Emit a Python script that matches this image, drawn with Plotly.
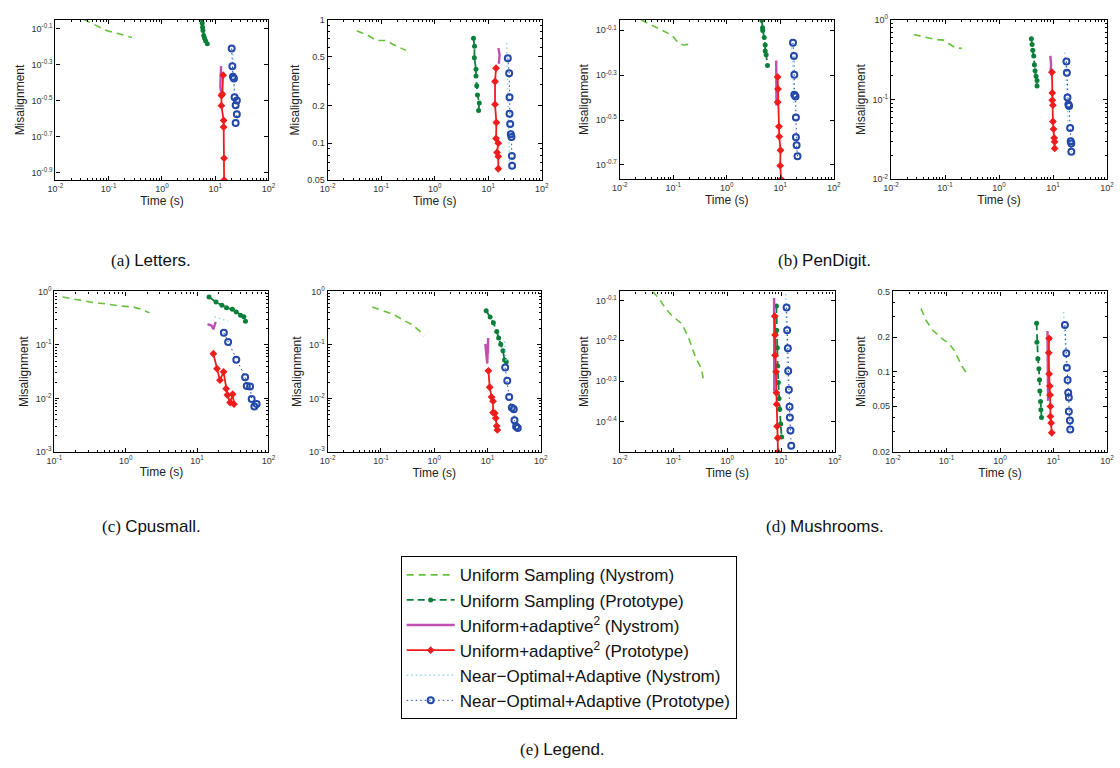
import plotly.graph_objects as go

# ---------------- data (time in s, misalignment) ----------------
# Panel a1: Letters, Nystrom
A1_UNS_T = [0.034, 0.09, 0.16, 0.274]
A1_UNS_E = [0.897, 0.778, 0.743, 0.711]
A1_UPR_T = [5.6, 5.7, 5.8, 5.9, 6.1, 6.3, 6.6, 7.1]
A1_UPR_E = [0.898, 0.853, 0.811, 0.778, 0.728, 0.706, 0.682, 0.656]
A1_ADN_T = [12.9, 12.6, 12.5, 12.8]
A1_ADN_E = [0.493, 0.43, 0.38, 0.355]
A1_ADP_T = [14.1, 13.6, 13.1, 13.1, 14.4, 14.4, 14.7, 14.7]
A1_ADP_E = [0.438, 0.344, 0.337, 0.296, 0.245, 0.225, 0.151, 0.114]
A1_NON_T = [21.5, 22.0, 22.5]
A1_NON_E = [0.608, 0.45, 0.35]
A1_NOP_T = [20.4, 21.0, 21.5, 22.5, 23.1, 24.2, 25.5, 25.5, 24.2]
A1_NOP_E = [0.617, 0.491, 0.429, 0.42, 0.33, 0.298, 0.316, 0.265, 0.237]

# Panel a2: Letters, Prototype
A2_UNS_T = [0.035, 0.061, 0.081, 0.126, 0.167, 0.222, 0.29]
A2_UNS_E = [0.816, 0.735, 0.679, 0.679, 0.631, 0.593, 0.565]
A2_UPR_T = [5.3, 5.55, 5.5, 5.9, 5.9, 6.1, 6.3, 6.8, 6.6]
A2_UPR_E = [0.708, 0.611, 0.493, 0.397, 0.351, 0.292, 0.246, 0.212, 0.184]
A2_ADN_T = [15.5, 16.3, 15.8]
A2_ADN_E = [0.59, 0.52, 0.44]
A2_ADP_T = [14.0, 13.4, 13.4, 14.2, 14.0, 15.4, 14.6, 15.4, 15.4]
A2_ADP_E = [0.405, 0.316, 0.206, 0.147, 0.109, 0.1, 0.084, 0.078, 0.062]
A2_NON_T = [22.0, 22.5, 23.0, 23.5, 24.0, 25.0]
A2_NON_E = [0.65, 0.45, 0.3, 0.2, 0.12, 0.07]
A2_NOP_T = [23.2, 24.6, 25.0, 25.0, 25.7, 26.4, 27.2, 27.6, 27.9]
A2_NOP_E = [0.487, 0.369, 0.235, 0.173, 0.143, 0.118, 0.112, 0.0788, 0.0655]

# Panel b1: PenDigit, Nystrom
B1_UNS_T = [0.025, 0.054, 0.095, 0.126, 0.155, 0.192, 0.221]
B1_UNS_E = [0.885, 0.807, 0.755, 0.695, 0.683, 0.688, 0.667]
B1_UPR_T = [4.54, 4.67, 4.7, 5.01, 5.23, 5.23, 5.45, 5.77]
B1_UPR_E = [0.879, 0.816, 0.794, 0.738, 0.683, 0.643, 0.618, 0.553]
B1_ADN_T = [8.4, 8.45, 8.5]
B1_ADN_E = [0.583, 0.47, 0.367]
B1_ADP_T = [8.93, 9.06, 8.93, 9.45, 9.58, 10.1, 9.96, 10.4]
B1_ADP_E = [0.492, 0.435, 0.38, 0.296, 0.267, 0.232, 0.198, 0.172]
B1_NON_T = [16.1, 17.0, 17.5, 18.0]
B1_NON_E = [0.731, 0.6, 0.48, 0.37]
B1_NOP_T = [17.3, 18.0, 18.3, 18.3, 19.3, 19.6, 19.6, 20.2, 21.0]
B1_NOP_E = [0.699, 0.611, 0.503, 0.41, 0.403, 0.325, 0.265, 0.244, 0.218]

# Panel b2: PenDigit, Prototype
B2_UNS_T = [0.0264, 0.0432, 0.066, 0.0938, 0.124, 0.154, 0.204]
B2_UNS_E = [0.653, 0.605, 0.567, 0.556, 0.491, 0.447, 0.438]
B2_UPR_T = [3.97, 4.09, 4.21, 4.39, 4.51, 4.64, 4.84, 5.05, 5.05]
B2_UPR_E = [0.577, 0.491, 0.414, 0.352, 0.273, 0.23, 0.196, 0.173, 0.148]
B2_ADN_T = [8.9, 9.2, 9.0, 9.3]
B2_ADN_E = [0.352, 0.27, 0.23, 0.2]
B2_ADP_T = [9.53, 9.67, 9.67, 9.94, 9.94, 10.2, 10.5, 10.7, 10.7]
B2_ADP_E = [0.22, 0.121, 0.098, 0.085, 0.053, 0.0426, 0.033, 0.0295, 0.0244]
B2_NON_T = [16.5, 17.2, 18.0, 19.0]
B2_NON_E = [0.388, 0.2, 0.1, 0.05]
B2_NOP_T = [17.7, 18.0, 18.5, 19.2, 19.8, 20.7, 21.2, 21.8, 21.8]
B2_NOP_E = [0.3, 0.216, 0.106, 0.0867, 0.0827, 0.0438, 0.03, 0.0281, 0.0222]

# Panel c1: Cpusmall, Nystrom
C1_UNS_T = [0.13, 0.189, 0.32, 0.543, 0.83, 1.27, 1.56, 2.15]
C1_UNS_E = [0.786, 0.711, 0.635, 0.583, 0.536, 0.513, 0.478, 0.398]
C1_UPR_T = [14.7, 18.4, 22.3, 25.8, 31.2, 35.4, 40.6, 45.2, 47.6]
C1_UPR_E = [0.786, 0.635, 0.551, 0.499, 0.465, 0.415, 0.36, 0.336, 0.279]
C1_ADN_T = [14.0, 16.0, 16.9, 18.2]
C1_ADN_E = [0.245, 0.229, 0.196, 0.271]
C1_ADP_T = [16.9, 19.0, 20.9, 23.5, 25.5, 26.6, 29.0, 31.5, 32.9]
C1_ADP_E = [0.0685, 0.0361, 0.022, 0.0314, 0.0152, 0.0116, 0.0084, 0.012, 0.0078]
C1_NON_T = [17.5, 21.0, 27.2]
C1_NON_E = [0.336, 0.31, 0.279]
C1_NOP_T = [23.7, 27.2, 35.4, 47.1, 49.7, 55.2, 58.2, 63.4, 68.2]
C1_NOP_E = [0.17, 0.114, 0.053, 0.025, 0.017, 0.0168, 0.0098, 0.0071, 0.0079]

# Panel c2: Cpusmall, Prototype
C2_UNS_T = [0.069, 0.109, 0.167, 0.255, 0.392, 0.52, 0.644]
C2_UNS_E = [0.515, 0.434, 0.377, 0.297, 0.237, 0.186, 0.146]
C2_UPR_T = [9.44, 11.2, 12.9, 14.9, 16.2, 17.7, 19.5, 20.9, 22.5]
C2_UPR_E = [0.435, 0.332, 0.261, 0.179, 0.135, 0.103, 0.0776, 0.0523, 0.0486]
C2_ADN_T = [9.1, 9.3, 9.6, 9.9, 10.3, 10.2]
C2_ADN_E = [0.105, 0.08, 0.055, 0.045, 0.135, 0.07]
C2_ADP_T = [10.4, 11.0, 11.9, 12.7, 12.7, 13.7, 14.3, 14.9, 15.3]
C2_ADP_E = [0.0328, 0.0162, 0.0106, 0.0089, 0.00545, 0.0053, 0.00428, 0.00305, 0.00258]
C2_NON_T = [20.9, 21.5, 22.5]
C2_NON_E = [0.117, 0.08, 0.05]
C2_NOP_T = [21.5, 23.5, 25.5, 28.6, 31.2, 32.1, 34.4, 37.0]
C2_NOP_E = [0.0377, 0.0214, 0.0106, 0.0067, 0.0063, 0.0039, 0.003, 0.0028]

# Panel d1: Mushrooms, Nystrom
D1_UNS_T = [0.0408, 0.054, 0.0716, 0.095, 0.145, 0.192, 0.254, 0.336, 0.361]
D1_UNS_E = [0.838, 0.804, 0.759, 0.728, 0.695, 0.641, 0.577, 0.535, 0.503]
D1_UPR_T = [8.2, 8.32, 8.55, 8.67, 8.93, 9.18, 9.45, 9.85, 10.3]
D1_UPR_E = [0.771, 0.671, 0.607, 0.547, 0.497, 0.454, 0.427, 0.392, 0.364]
D1_ADN_T = [7.43, 7.45, 7.5]
D1_ADN_E = [0.807, 0.6, 0.473]
D1_ADP_T = [7.64, 7.75, 7.75, 8.09, 8.2, 8.32, 8.44, 8.67, 8.79]
D1_ADP_E = [0.727, 0.653, 0.581, 0.529, 0.469, 0.439, 0.387, 0.362, 0.334]
D1_NON_T = [12.2, 12.5, 12.8, 13.2]
D1_NON_E = [0.826, 0.72, 0.6, 0.5]
D1_NOP_T = [12.7, 13.0, 13.4, 13.6, 14.0, 14.4, 14.6, 15.0, 15.5]
D1_NOP_E = [0.764, 0.671, 0.605, 0.531, 0.477, 0.433, 0.407, 0.378, 0.346]

# Panel d2: Mushrooms, Prototype
D2_UNS_T = [0.0334, 0.0412, 0.0547, 0.0837, 0.111, 0.137, 0.17, 0.196, 0.243]
D2_UNS_E = [0.355, 0.281, 0.231, 0.193, 0.177, 0.155, 0.127, 0.111, 0.0957]
D2_UPR_T = [4.82, 4.89, 5.1, 5.32, 5.47, 5.55, 5.71, 5.79, 5.96]
D2_UPR_E = [0.264, 0.181, 0.13, 0.106, 0.085, 0.068, 0.055, 0.0466, 0.04]
D2_ADN_T = [7.7, 7.8, 7.9]
D2_ADN_E = [0.226, 0.1, 0.0557]
D2_ADP_T = [8.26, 8.14, 8.26, 8.5, 8.61, 8.74, 8.74, 9.0, 9.25]
D2_ADP_E = [0.195, 0.146, 0.0957, 0.075, 0.0628, 0.0498, 0.0408, 0.0358, 0.0294]
D2_NON_T = [15.4, 16.0, 16.8, 17.5]
D2_NON_E = [0.332, 0.22, 0.15, 0.1]
D2_NOP_T = [16.3, 17.3, 17.7, 18.3, 18.8, 19.3, 19.3, 20.2, 20.5]
D2_NOP_E = [0.255, 0.145, 0.108, 0.0845, 0.0657, 0.0595, 0.0451, 0.0375, 0.0313]

SERIES_NAMES = [
    "Uniform Sampling (Nystrom)",
    "Uniform Sampling (Prototype)",
    "Uniform+adaptive<sup>2</sup> (Nystrom)",
    "Uniform+adaptive<sup>2</sup> (Prototype)",
    "Near\u2212Optimal+Adaptive (Nystrom)",
    "Near\u2212Optimal+Adaptive (Prototype)",
]

CAPTIONS = ["(a) ", "Letters.", "(b) ", "PenDigit.", "(c) ", "Cpusmall.", "(d) ", "Mushrooms.", "(e) ", "Legend."]

# ---------------- styles ----------------
C_LGREEN = "#66c23a"
C_DGREEN = "#0b7f3a"
C_MAGENTA = "#bf4fb0"
C_RED = "#f01c1c"
C_CYAN = "#93d9ee"
C_BLUE = "#2348a8"

STYLES = [
    dict(mode="lines", line=dict(color=C_LGREEN, width=1.6, dash="7px,5px")),
    dict(mode="lines+markers", line=dict(color=C_DGREEN, width=1.8, dash="7px,4px"),
         marker=dict(symbol="circle", size=5, color=C_DGREEN)),
    dict(mode="lines", line=dict(color=C_MAGENTA, width=2.4)),
    dict(mode="lines+markers", line=dict(color=C_RED, width=1.8),
         marker=dict(symbol="diamond", size=6, color=C_RED)),
    dict(mode="lines", line=dict(color=C_CYAN, width=1.5, dash="1.5px,3px")),
    dict(mode="lines+markers", line=dict(color=C_BLUE, width=1.0, dash="1.5px,3px"),
         marker=dict(symbol="circle-open", size=6, color=C_BLUE, line=dict(width=2, color=C_BLUE))),
]

W, H = 1120, 768

def sup(s):
    return "10<sup>" + s + "</sup>"

panels = [
    dict(data=[(A1_UNS_T, A1_UNS_E), (A1_UPR_T, A1_UPR_E), (A1_ADN_T, A1_ADN_E),
               (A1_ADP_T, A1_ADP_E), (A1_NON_T, A1_NON_E), (A1_NOP_T, A1_NOP_E)],
         xd=(48, 264), yd=(13, 176), xr=(-2, 2), yr=(-0.944, -0.05),
         yv=[10**-0.1, 10**-0.3, 10**-0.5, 10**-0.7, 10**-0.9],
         yt=[sup("-0.1"), sup("-0.3"), sup("-0.5"), sup("-0.7"), sup("-0.9")], ym=False),
    dict(data=[(A2_UNS_T, A2_UNS_E), (A2_UPR_T, A2_UPR_E), (A2_ADN_T, A2_ADN_E),
               (A2_ADP_T, A2_ADP_E), (A2_NON_T, A2_NON_E), (A2_NOP_T, A2_NOP_E)],
         xd=(324, 541), yd=(13, 176), xr=(-2, 2), yr=(-1.301, 0),
         yv=[1, 0.5, 0.2, 0.1, 0.05], yt=["1", "0.5", "0.2", "0.1", "0.05"], ym=True),
    dict(data=[(B1_UNS_T, B1_UNS_E), (B1_UPR_T, B1_UPR_E), (B1_ADN_T, B1_ADN_E),
               (B1_ADP_T, B1_ADP_E), (B1_NON_T, B1_NON_E), (B1_NOP_T, B1_NOP_E)],
         xd=(620, 837), yd=(13, 175), xr=(-2, 2), yr=(-0.764, -0.053),
         yv=[10**-0.1, 10**-0.3, 10**-0.5, 10**-0.7],
         yt=[sup("-0.1"), sup("-0.3"), sup("-0.5"), sup("-0.7")], ym=False),
    dict(data=[(B2_UNS_T, B2_UNS_E), (B2_UPR_T, B2_UPR_E), (B2_ADN_T, B2_ADN_E),
               (B2_ADP_T, B2_ADP_E), (B2_NON_T, B2_NON_E), (B2_NOP_T, B2_NOP_E)],
         xd=(895, 1114), yd=(13, 175), xr=(-2, 2), yr=(-2, 0),
         yv=[1, 0.1, 0.01], yt=[sup("0"), sup("-1"), sup("-2")], ym=True),
    dict(data=[(C1_UNS_T, C1_UNS_E), (C1_UPR_T, C1_UPR_E), (C1_ADN_T, C1_ADN_E),
               (C1_ADP_T, C1_ADP_E), (C1_NON_T, C1_NON_E), (C1_NOP_T, C1_NOP_E)],
         xd=(47, 264), yd=(289, 452), xr=(-1, 2), yr=(-3, 0),
         yv=[1, 0.1, 0.01, 0.001], yt=[sup("0"), sup("-1"), sup("-2"), sup("-3")], ym=True),
    dict(data=[(C2_UNS_T, C2_UNS_E), (C2_UPR_T, C2_UPR_E), (C2_ADN_T, C2_ADN_E),
               (C2_ADP_T, C2_ADP_E), (C2_NON_T, C2_NON_E), (C2_NOP_T, C2_NOP_E)],
         xd=(324, 540), yd=(289, 452), xr=(-2, 2), yr=(-3, 0),
         yv=[1, 0.1, 0.01, 0.001], yt=[sup("0"), sup("-1"), sup("-2"), sup("-3")], ym=True),
    dict(data=[(D1_UNS_T, D1_UNS_E), (D1_UPR_T, D1_UPR_E), (D1_ADN_T, D1_ADN_E),
               (D1_ADP_T, D1_ADP_E), (D1_NON_T, D1_NON_E), (D1_NOP_T, D1_NOP_E)],
         xd=(620, 838), yd=(289, 452), xr=(-2, 2), yr=(-0.476, -0.077),
         yv=[10**-0.1, 10**-0.2, 10**-0.3, 10**-0.4],
         yt=[sup("-0.1"), sup("-0.2"), sup("-0.3"), sup("-0.4")], ym=False),
    dict(data=[(D2_UNS_T, D2_UNS_E), (D2_UPR_T, D2_UPR_E), (D2_ADN_T, D2_ADN_E),
               (D2_ADP_T, D2_ADP_E), (D2_NON_T, D2_NON_E), (D2_NOP_T, D2_NOP_E)],
         xd=(897, 1114), yd=(289, 452), xr=(-2, 2), yr=(-1.699, -0.301),
         yv=[0.5, 0.2, 0.1, 0.05, 0.02], yt=["0.5", "0.2", "0.1", "0.05", "0.02"], ym=True),
]

def minor_vals(lo, hi):
    vals = []
    for d in range(int(lo) - 1, int(hi) + 1):
        for m in range(2, 10):
            vals.append(m * 10.0 ** d)
    return vals

fig = go.Figure()
layout = dict(width=W, height=H, margin=dict(l=0, r=0, t=0, b=0),
              paper_bgcolor="white", plot_bgcolor="white", showlegend=True,
              font=dict(family="Liberation Sans, Arial, sans-serif", color="#222"))

tick_font = dict(size=9, color="#333", family="Liberation Sans, Arial, sans-serif")
title_font = dict(size=12, color="#222", family="Liberation Sans, Arial, sans-serif")

for i, p in enumerate(panels):
    n = i + 1
    xa = "x" if n == 1 else f"x{n}"
    ya = "y" if n == 1 else f"y{n}"
    for k, (t, e) in enumerate(p["data"]):
        st = STYLES[k]
        tr = go.Scatter(x=t, y=e, xaxis=xa, yaxis=ya, name=SERIES_NAMES[k],
                        showlegend=(n == 1), legendrank=k + 1,
                        hoverinfo="skip", **st)
        fig.add_trace(tr)
    xdec = list(range(int(p["xr"][0]), int(p["xr"][1]) + 1))
    xaxis = dict(type="log", range=list(p["xr"]),
                 domain=[p["xd"][0] / W, p["xd"][1] / W],
                 anchor=ya, showgrid=False, zeroline=False,
                 showline=True, linecolor="#000000", linewidth=1.3, mirror="allticks",
                 ticks="inside", ticklen=4, tickcolor="#000000", tickwidth=1,
                 tickmode="array",
                 tickvals=[10.0 ** d for d in xdec], ticktext=[sup(str(d)) for d in xdec],
                 tickfont=tick_font,
                 minor=dict(ticks="inside", ticklen=2, tickcolor="#000000",
                            tickvals=minor_vals(p["xr"][0], p["xr"][1]), showgrid=False),
                 title=dict(text="Time (s)", font=title_font, standoff=2))
    yaxis = dict(type="log", range=list(p["yr"]),
                 domain=[1 - p["yd"][1] / H, 1 - p["yd"][0] / H],
                 anchor=xa, showgrid=False, zeroline=False,
                 showline=True, linecolor="#000000", linewidth=1.3, mirror="allticks",
                 ticks="inside", ticklen=4, tickcolor="#000000", tickwidth=1,
                 tickmode="array",
                 tickvals=p["yv"], ticktext=p["yt"], tickfont=tick_font,
                 title=dict(text="Misalignment", font=title_font, standoff=4))
    if p["ym"]:
        yaxis["minor"] = dict(ticks="inside", ticklen=2, tickcolor="#000000",
                              tickvals=minor_vals(p["yr"][0], p["yr"][1]), showgrid=False)
    layout["xaxis" if n == 1 else f"xaxis{n}"] = xaxis
    layout["yaxis" if n == 1 else f"yaxis{n}"] = yaxis

layout["legend"] = dict(x=398 / W, y=1 - 558 / H, xanchor="left", yanchor="top",
                        bgcolor="white", bordercolor="black", borderwidth=1,
                        font=dict(size=17, color="#111", family="Liberation Sans, Arial, sans-serif"),
                        tracegroupgap=0, itemwidth=48)

cap_pos = [(145, 258), (828, 258), (145, 528), (828, 528), (562, 754)]
anns = []
for j, (cx, cy) in enumerate(cap_pos):
    txt = CAPTIONS[2 * j] + "<span style='font-family:Liberation Sans, Arial, sans-serif'>" + CAPTIONS[2 * j + 1] + "</span>"
    anns.append(dict(text=txt, x=cx / W, y=1 - cy / H, xref="paper", yref="paper",
                     showarrow=False, xanchor="center", yanchor="middle",
                     font=dict(size=17, color="#111", family="Liberation Serif, DejaVu Serif, serif")))
layout["annotations"] = anns

fig.update_layout(**layout)
fig.write_html("out.html", config={"displayModeBar": False},
               post_script="document.body.style.margin='0';document.body.style.padding='0';"
                           "document.documentElement.style.overflow='hidden';")
